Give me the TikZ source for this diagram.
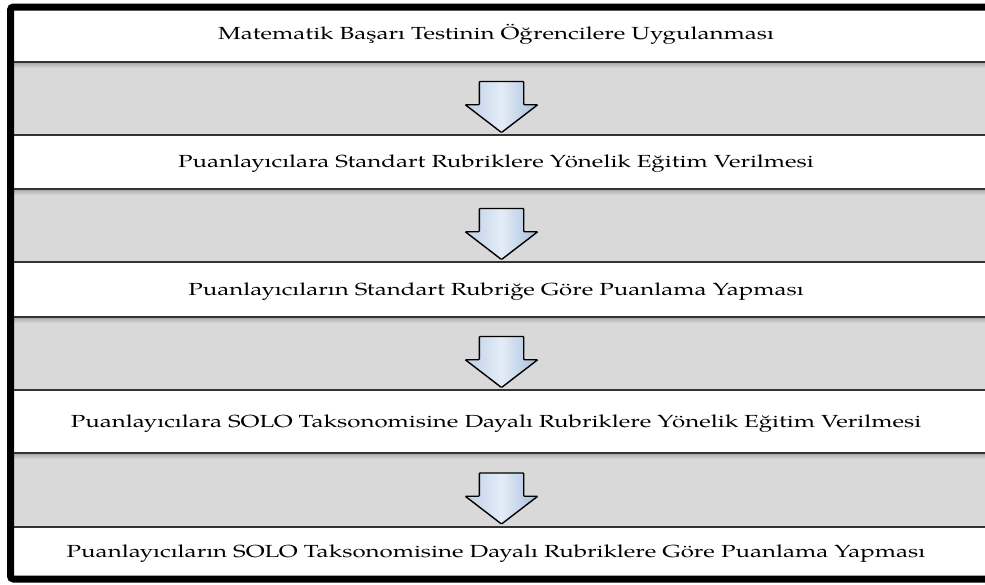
\documentclass[tikz,border=0pt]{standalone}
\usepackage{fontspec}
\setmainfont{texgyrepagella-regular.otf}
\usetikzlibrary{shapes.arrows}
\definecolor{bandgray}{HTML}{D9D9D9}
\definecolor{arrowtop}{HTML}{BFD0E8}
\definecolor{arrowmid}{HTML}{E4ECF7}
\definecolor{arrowbot}{HTML}{A7BEDC}

\tikzset{
 steptext/.style={anchor=base,inner sep=0pt,xscale=1.375,font=\fontsize{17.5}{20}\selectfont},
 downarrow/.style={single arrow,draw=black,line width=1.4pt,rotate=-90,
  minimum height=51pt,minimum width=71pt,inner sep=0pt,inner ysep=21.5pt,
  single arrow head extend=14pt,single arrow tip angle=105,rounded corners=0.8pt,
  left color=arrowtop,right color=arrowbot,middle color=arrowmid},
 bandline/.style={line width=1.8pt,black!80}
}

\begin{document}
\begin{tikzpicture}[x=1pt,y=-1pt]
 \useasboundingbox (0,0) rectangle (985,584);
 % gri bantlar
 \fill[bandgray] (14,62) rectangle (985,135);
 \fill[bandgray] (14,189) rectangle (985,262);
 \fill[bandgray] (14,317) rectangle (985,390);
 \fill[bandgray] (14,453) rectangle (985,527);
 \shade[top color=black!35,bottom color=bandgray] (14,62) rectangle (985,68);
 \shade[top color=black!35,bottom color=bandgray] (14,189) rectangle (985,195);
 \shade[top color=black!35,bottom color=bandgray] (14,317) rectangle (985,323);
 \shade[top color=black!35,bottom color=bandgray] (14,453) rectangle (985,459);
 \draw[bandline] (14,62)--(985,62);
 \draw[bandline] (14,135)--(985,135);
 \draw[bandline] (14,189)--(985,189);
 \draw[bandline] (14,262)--(985,262);
 \draw[bandline] (14,317)--(985,317);
 \draw[bandline] (14,390)--(985,390);
 \draw[bandline] (14,453)--(985,453);
 \draw[bandline] (14,527)--(985,527);
 % dış çerçeve
 \draw[line width=7pt,rounded corners=3pt] (10.5,7) rectangle (1000,579);
 % adımlar
 \node[steptext] (s1) at (496,39) {Matematik Başarı Testinin Öğrencilere Uygulanması};
 \node[steptext] (s2) at (496,167) {Puanlayıcılara Standart Rubriklere Yönelik Eğitim Verilmesi};
 \node[steptext] (s3) at (496,295) {Puanlayıcıların Standart Rubriğe Göre Puanlama Yapması};
 \node[steptext] (s4) at (496,427) {Puanlayıcılara SOLO Taksonomisine Dayalı Rubriklere Yönelik Eğitim Verilmesi};
 \node[steptext] (s5) at (496,557) {Puanlayıcıların SOLO Taksonomisine Dayalı Rubriklere Göre Puanlama Yapması};
 % oklar
 \node[downarrow] (a1) at (501.5,98.5) {};
 \node[downarrow] (a2) at (501.5,225.5) {};
 \node[downarrow] (a3) at (501.5,353.5) {};
 \node[downarrow] (a4) at (501.5,490) {};
\end{tikzpicture}
\end{document}
